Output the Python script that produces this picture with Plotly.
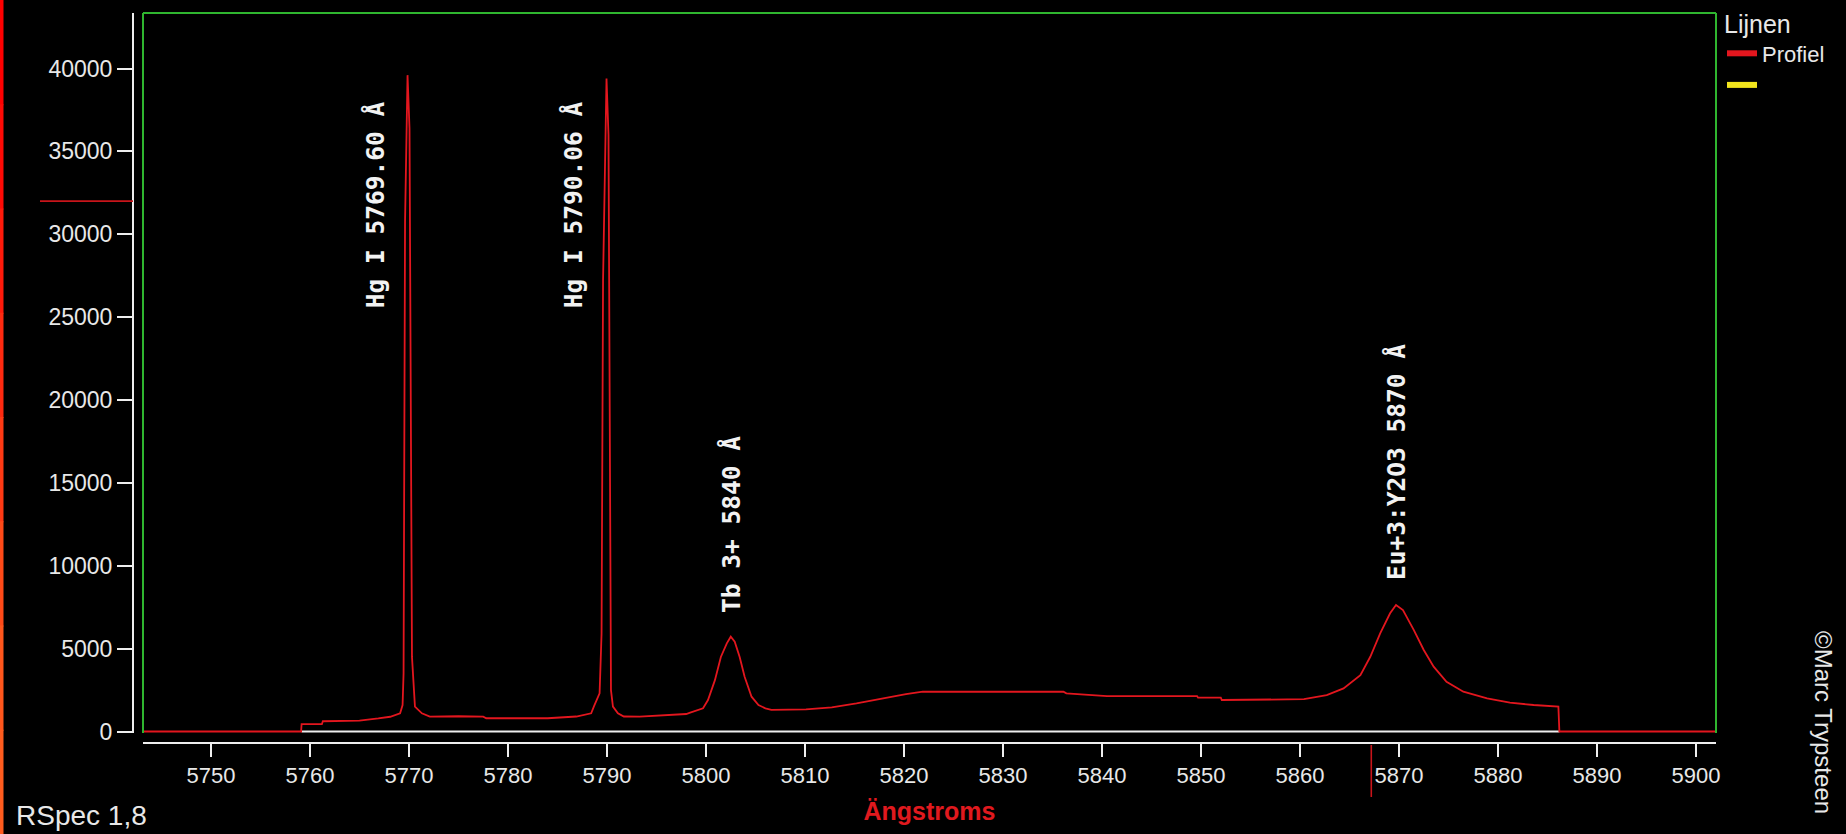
import plotly.graph_objects as go

# Spectrum profile: wavelength (Å) and intensity (counts)
wavelength = [
    5743.13, 5759.10, 5759.15, 5761.20, 5761.30, 5763.00, 5765.00, 5766.90,
    5768.10, 5769.10, 5769.35, 5769.45, 5769.60, 5769.85, 5770.05, 5770.30,
    5770.60, 5771.30, 5772.10, 5775.00, 5777.50, 5777.80, 5781.00, 5784.00,
    5786.90, 5788.40, 5788.70, 5789.00, 5789.25, 5789.45, 5789.60, 5789.95,
    5790.15, 5790.40, 5790.60, 5791.10, 5791.70, 5793.30, 5795.00, 5797.00,
    5798.00, 5798.40, 5799.70, 5800.20, 5800.90, 5801.50, 5802.10, 5802.50,
    5802.90, 5803.40, 5803.90, 5804.60, 5805.30, 5806.00, 5806.60, 5810.10,
    5812.70, 5815.20, 5816.90, 5818.90, 5820.20, 5821.90, 5836.10, 5836.40,
    5840.50, 5845.90, 5849.60, 5849.70, 5852.00, 5852.10, 5860.40, 5862.70,
    5864.40, 5866.10, 5867.10, 5868.10, 5869.10, 5869.70, 5870.40, 5871.50,
    5872.50, 5873.50, 5874.80, 5876.50, 5878.90, 5881.20, 5883.60, 5886.10,
    5886.20, 5902.02,
]
intensity = [
    0, 0, 450, 450, 620, 640, 660, 790,
    890, 1100, 1600, 3500, 30800, 39600, 36400, 4500,
    1500, 1100, 900, 920, 900, 800, 790, 800,
    905, 1100, 1550, 2000, 2300, 5900, 27200, 39400,
    36000, 2500, 1500, 1100, 905, 900, 960, 1000,
    1055, 1135, 1400, 1900, 3100, 4500, 5320, 5720,
    5420, 4500, 3300, 2100, 1600, 1400, 1300, 1330,
    1460, 1700, 1900, 2140, 2260, 2400, 2400, 2300,
    2140, 2140, 2140, 2040, 2040, 1900, 1950, 2200,
    2600, 3400, 4510, 5920, 7130, 7630, 7330, 6120,
    4920, 3910, 3000, 2400, 2000, 1740, 1600, 1500,
    0, 0,
]

# Extent of the recorded spectrum (white baseline at zero)
baseline_x = [5759.15, 5886.20]
baseline_y = [0, 0]

# Line identifications
line_labels = ["Hg I 5769.60 Å", "Hg I 5790.06 Å", "Tb 3+ 5840 Å", "Eu+3:Y2O3 5870 Å"]
label_x = [5766.6, 5786.6, 5802.5, 5869.7]
label_y = [25400, 25400, 5720, 7630]
label_yshift = [0, 0, 22, 23]

# Cursor readouts
cursor_y = 32000
cursor_x = 5867.2

x_ticks = list(range(5750, 5901, 10))
y_ticks = list(range(0, 40001, 5000))
x_range = [5743.13, 5902.02]
y_range = [-90, 43350]

# Page geometry (pixels)
W, H = 1846, 834
ML, MR, MT, MB = 133, 130, 13, 91
PW, PH = W - ML - MR, H - MT - MB


def px_x(X):
    return (X - ML) / PW


def px_y(Y):
    return (H - MB - Y) / PH


RED = "#e3161e"
GREEN = "#2fb52f"
WHITE = "#eeeeee"
TXT = "#e8e8e8"
FONT = "Liberation Sans"

fig = go.Figure()

fig.add_trace(go.Scatter(
    x=baseline_x, y=baseline_y, mode="lines",
    line=dict(color=WHITE, width=2.2), showlegend=False, hoverinfo="skip",
))
fig.add_trace(go.Scatter(
    x=wavelength, y=intensity, mode="lines",
    line=dict(color=RED, width=1.8), showlegend=False, name="Profiel",
))
# Legend entries
fig.add_trace(go.Scatter(
    x=[None], y=[None], mode="lines", name="Profiel",
    line=dict(color=RED, width=6),
))
fig.add_trace(go.Scatter(
    x=[None], y=[None], mode="lines", name=" ",
    line=dict(color="#f2e41c", width=6),
))

shapes = []
# Green plot frame (left, top, right)
for x0, y0, x1, y1 in [(0, 0, 0, 1), (0, 1, 1, 1), (1, 0, 1, 1)]:
    shapes.append(dict(type="line", xref="x domain", yref="y domain",
                       x0=x0, y0=y0, x1=x1, y1=y1,
                       line=dict(color=GREEN, width=2)))
# Horizontal cursor on the intensity scale
shapes.append(dict(type="line", xref="paper", yref="y",
                   x0=px_x(40), x1=px_x(133), y0=cursor_y, y1=cursor_y,
                   line=dict(color="#c8141a", width=1.6)))
# Vertical cursor on the wavelength scale
shapes.append(dict(type="line", xref="x", yref="paper",
                   x0=cursor_x, x1=cursor_x, y0=px_y(745), y1=px_y(797),
                   line=dict(color="#c8141a", width=1.6)))
# Window edge strip
edge_colors = ["#ff0000", "#ff0a05", "#ff1a0a", "#ff2a10", "#ff3a14", "#ff4a18", "#ff561c", "#ff5c1e"]
seg = H / len(edge_colors)
for i, c in enumerate(edge_colors):
    shapes.append(dict(type="rect", xref="paper", yref="paper",
                       x0=px_x(0), x1=px_x(3.5),
                       y0=px_y(i * seg), y1=px_y((i + 1) * seg + 1),
                       line=dict(width=0), fillcolor=c, layer="above"))

annotations = []
for t, x, y, s in zip(line_labels, label_x, label_y, label_yshift):
    annotations.append(dict(
        text=t, x=x, y=y, xref="x", yref="y", yshift=s,
        textangle=-90, xanchor="center", yanchor="bottom", showarrow=False,
        font=dict(family="DejaVu Sans Mono", size=24.5, color="#f2f2f2", weight="bold"),
    ))
annotations.append(dict(
    text="RSpec 1,8", xref="paper", yref="paper", x=px_x(14), y=px_y(815),
    xanchor="left", yanchor="middle", showarrow=False,
    font=dict(family=FONT, size=28, color=TXT),
))
annotations.append(dict(
    text="©Marc Trypsteen", xref="paper", yref="paper", x=px_x(1824), y=px_y(722),
    xanchor="center", yanchor="middle", textangle=90, showarrow=False,
    font=dict(family=FONT, size=24, color=TXT),
))

fig.update_layout(
    width=W, height=H,
    margin=dict(l=ML, r=MR, t=MT, b=MB, pad=0, autoexpand=False),
    paper_bgcolor="#000000", plot_bgcolor="#000000",
    showlegend=True,
    legend=dict(
        x=px_x(1722), y=px_y(0), xanchor="left", yanchor="top",
        bgcolor="rgba(0,0,0,0)", borderwidth=0,
        font=dict(family=FONT, size=22, color=TXT),
        title=dict(text="Lijnen", font=dict(family=FONT, size=25, color=TXT)),
        itemwidth=30, tracegroupgap=0,
    ),
    xaxis=dict(
        domain=[px_x(143), 1.0], range=x_range, anchor="free", position=0,
        tickmode="array", tickvals=x_ticks, ticktext=[str(v) for v in x_ticks],
        ticks="outside", ticklen=13, tickwidth=2, tickcolor=WHITE,
        showline=True, linecolor=WHITE, linewidth=2,
        showgrid=False, zeroline=False,
        tickfont=dict(family=FONT, size=22, color=TXT),
        title=dict(text="Ängstroms", standoff=14,
                   font=dict(family=FONT, size=25, color="#e0191e", weight="bold")),
    ),
    yaxis=dict(
        domain=[px_y(733), 1.0], range=y_range, anchor="free", position=0,
        tickmode="array", tickvals=y_ticks, ticktext=[str(v) for v in y_ticks],
        ticks="outside", ticklen=15, tickwidth=2, tickcolor=WHITE,
        showline=True, linecolor=WHITE, linewidth=2,
        showgrid=False, zeroline=False,
        tickfont=dict(family=FONT, size=23, color=TXT),
    ),
    shapes=shapes,
    annotations=annotations,
)

fig.write_html("out.html", config={"displayModeBar": False},
               post_script="document.body.style.margin='0';")
